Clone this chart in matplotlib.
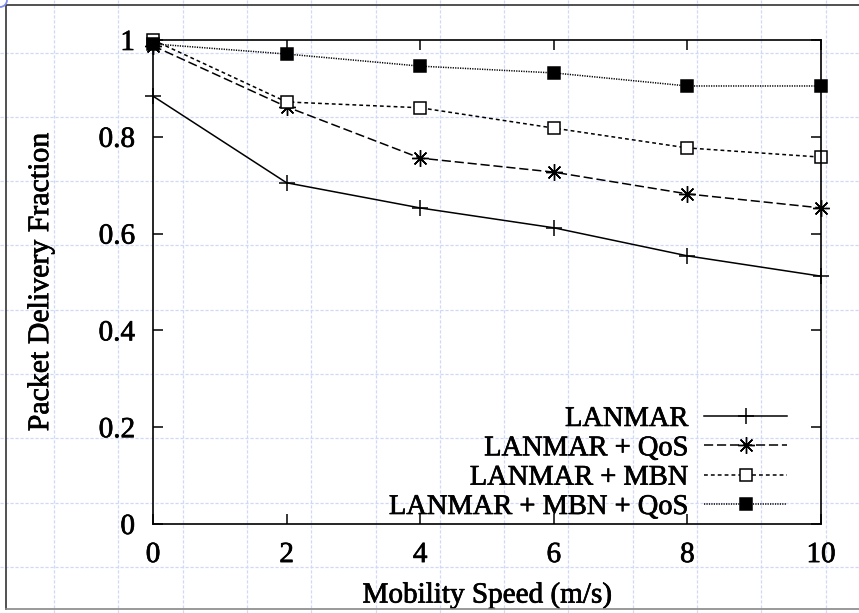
import matplotlib
matplotlib.use("Agg")
import matplotlib.pyplot as plt
import matplotlib.patheffects as pe
from matplotlib.lines import Line2D
from matplotlib.patches import Arc

# data
speed = [0, 2, 4, 6, 8, 10]
lanmar = [0.884, 0.705, 0.653, 0.612, 0.554, 0.512]
lanmar_qos = [0.988, 0.862, 0.756, 0.727, 0.682, 0.653]
lanmar_mbn = [1.0, 0.872, 0.860, 0.818, 0.777, 0.758]
lanmar_mbn_qos = [0.992, 0.971, 0.946, 0.932, 0.905, 0.905]

x_ticks = [0, 2, 4, 6, 8, 10]
y_ticks = [0, 0.2, 0.4, 0.6, 0.8, 1.0]
y_tick_labels = ["0", "0.2", "0.4", "0.6", "0.8", "1"]

W, H = 859, 613
FS = 21
plt.rcParams['font.family'] = ['Liberation Serif', 'DejaVu Serif']
fig = plt.figure(figsize=(W / 100, H / 100), dpi=100)

# slightly heavier text, like the screenshot
heavy = [pe.withStroke(linewidth=0.5, foreground='k')]


def draw_slide_grid(fig):
    # light blue dashed background grid of the slide
    grid_kw = dict(color='#cfd8f7', lw=0.9, ls=(0, (2.5, 1.5)), zorder=0)
    x = 54.0
    while x < W:
        fig.add_artist(Line2D([x / W, x / W], [0, 1], transform=fig.transFigure, **grid_kw))
        x += 64.3
    y = 52.5
    while y < H:
        fig.add_artist(Line2D([0, 1], [1 - y / H, 1 - y / H], transform=fig.transFigure, **grid_kw))
        y += 64.3
    # outer frame of the picture box
    frame_kw = dict(color='#333333', lw=1.2, zorder=1)
    fig.add_artist(Line2D([6 / W, 1], [1 - 5 / H, 1 - 5 / H], transform=fig.transFigure, **frame_kw))
    fig.add_artist(Line2D([6 / W, 6 / W], [1 - 5 / H, 1 - 609 / H], transform=fig.transFigure, **frame_kw))
    fig.add_artist(Line2D([6 / W, 1], [1 - 609 / H, 1 - 609 / H], transform=fig.transFigure,
                          color='#888888', lw=1.2, zorder=1))
    # selection handle arc in the top-left corner
    fig.add_artist(Arc((0, 1), 2 * 7 / W, 2 * 7 / H, theta1=270, theta2=360,
                       transform=fig.transFigure, color='#7f8ff0', lw=1.3))


draw_slide_grid(fig)

ax = fig.add_axes([153 / W, 1 - 524 / H, 668 / W, 484 / H])
ax.patch.set_alpha(0)

lw = 1.1
ax.plot(speed, lanmar, color='k', lw=lw, ls='-', marker='+', ms=11, mew=1.1,
        label='LANMAR', clip_on=False)
ax.plot(speed, lanmar_qos, color='k', lw=lw, ls=(0, (6, 2.5)), marker=(8, 2, 0), ms=12, mew=1.0,
        label='LANMAR + QoS', clip_on=False)
ax.plot(speed, lanmar_mbn, color='k', lw=lw, ls=(0, (2.5, 2)), marker='s', ms=8.5, mew=1.1,
        mfc='white', label='LANMAR + MBN', clip_on=False)
ax.plot(speed, lanmar_mbn_qos, color='k', lw=lw, ls=(0, (0.8, 0.8)), marker='s', ms=8.5, mew=1.1,
        label='LANMAR + MBN + QoS', clip_on=False)

ax.set_xlim(0, 10)
ax.set_ylim(0, 1)
ax.set_xticks(x_ticks)
ax.set_xticklabels([str(v) for v in x_ticks])
ax.set_yticks(y_ticks)
ax.set_yticklabels(y_tick_labels)
ax.tick_params(direction='in', length=7, width=1.1, top=True, right=True,
               labelsize=FS, color='k')
ax.tick_params(axis='y', pad=13)
ax.tick_params(axis='x', pad=13)
for s in ax.spines.values():
    s.set_linewidth(1.2)

ax.set_xlabel('Mobility Speed (m/s)', fontsize=FS, labelpad=10)
ax.set_ylabel('Packet Delivery Fraction', fontsize=21.5, labelpad=32)

leg = ax.legend(loc='lower right', bbox_to_anchor=(787 / W, 1 - 520 / H),
                bbox_transform=fig.transFigure, frameon=False, markerfirst=False,
                fontsize=20.5, handlelength=2.9, handletextpad=0.55, labelspacing=0.12,
                borderpad=0, borderaxespad=0)

for t in ax.get_xticklabels() + ax.get_yticklabels() + leg.get_texts():
    t.set_path_effects(heavy)
ax.xaxis.label.set_path_effects(heavy)
ax.yaxis.label.set_path_effects(heavy)

fig.savefig('out.png', dpi=100)
